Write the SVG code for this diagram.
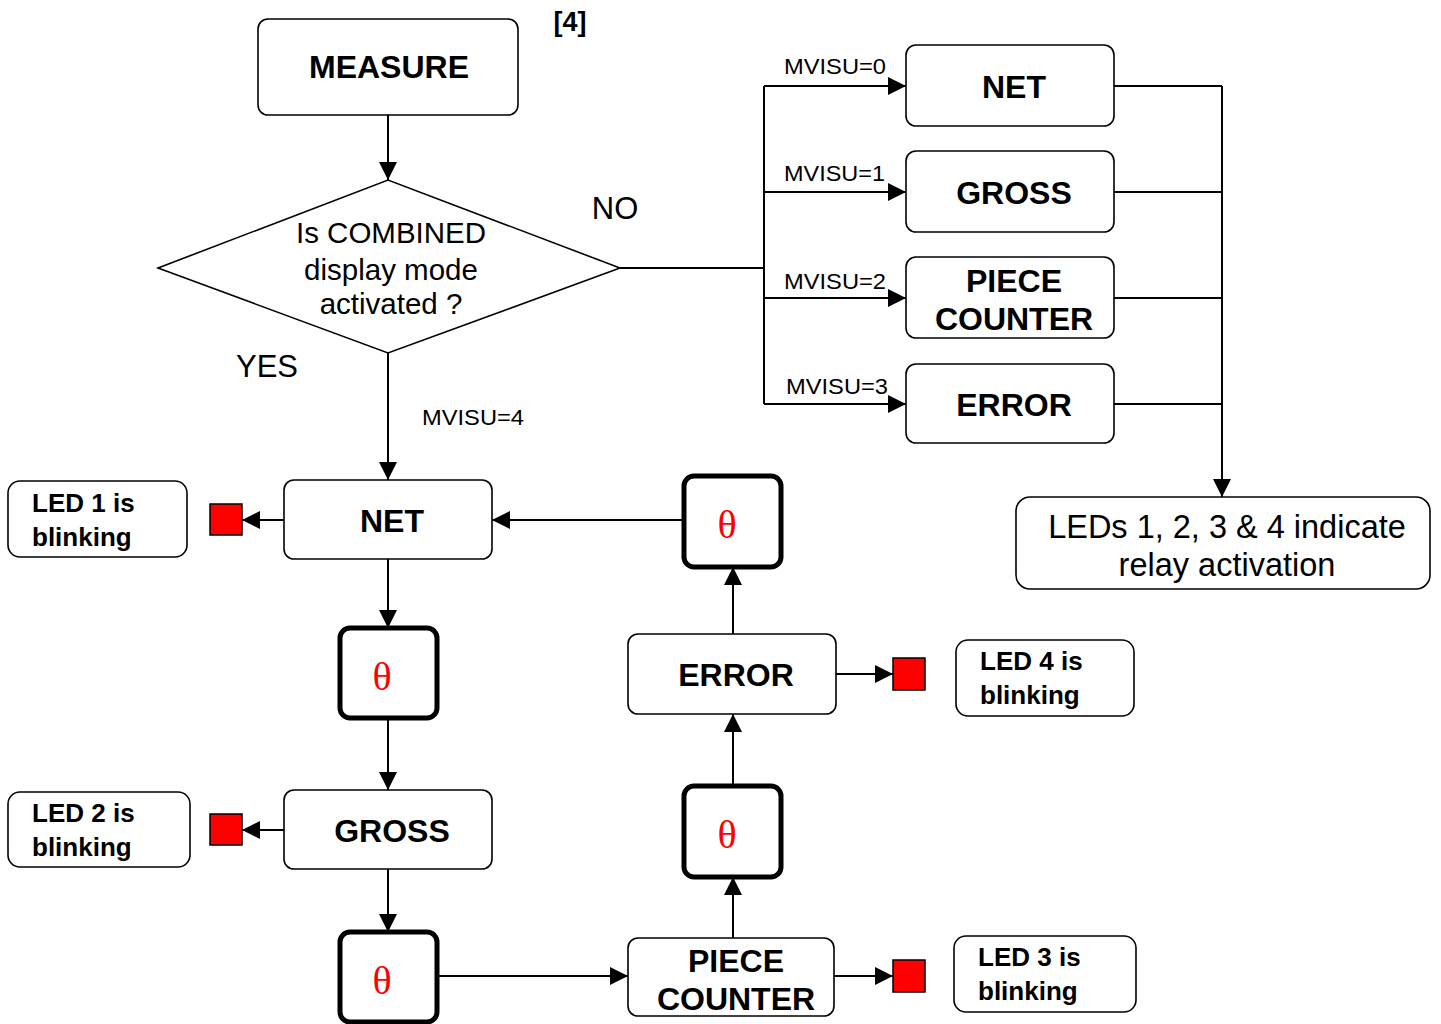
<svg xmlns="http://www.w3.org/2000/svg" width="1441" height="1024" viewBox="0 0 1441 1024">
<style>
.box{fill:#fff;stroke:#000;stroke-width:1.6}
.tbox{fill:#fff;stroke:#000;stroke-width:5}
.b{font-family:"Liberation Sans",Arial,sans-serif;font-weight:bold;font-size:32px;text-anchor:middle;fill:#000}
.led{font-family:"Liberation Sans",Arial,sans-serif;font-weight:bold;font-size:26px;fill:#000}
.n{font-family:"Liberation Sans",Arial,sans-serif;font-size:29.5px;text-anchor:middle;fill:#000}
.s{font-family:"Liberation Sans",Arial,sans-serif;font-size:22px;fill:#000}
.th{font-family:"Liberation Serif","Times New Roman",serif;font-size:40px;text-anchor:middle;fill:#f00}
.c{fill:none;stroke:#000;stroke-width:2}
.red{fill:#f00;stroke:#000;stroke-width:1.5}
</style>
<defs>
<marker id="a" markerUnits="userSpaceOnUse" markerWidth="20" markerHeight="18" refX="18" refY="9" orient="auto">
<path d="M0,0 L18,9 L0,18 z" fill="#000"/>
</marker>
</defs>
<text x="570" y="31" class="b" style="font-size:27px">[4]</text>

<g id="connectors">
<path class="c" d="M388,115 V180" marker-end="url(#a)"/>
<path class="c" d="M620,268 H764"/>
<path class="c" d="M764,86 V404"/>
<path class="c" d="M764,86 H906" marker-end="url(#a)"/>
<path class="c" d="M764,192 H906" marker-end="url(#a)"/>
<path class="c" d="M764,298 H906" marker-end="url(#a)"/>
<path class="c" d="M764,404 H906" marker-end="url(#a)"/>
<path class="c" d="M1114,86 H1222 M1114,192 H1222 M1114,298 H1222 M1114,404 H1222"/>
<path class="c" d="M1222,86 V497" marker-end="url(#a)"/>
<path class="c" d="M388,353 V480" marker-end="url(#a)"/>
<path class="c" d="M284,520 H242" marker-end="url(#a)"/>
<path class="c" d="M388,559 V628" marker-end="url(#a)"/>
<path class="c" d="M388,718 V790" marker-end="url(#a)"/>
<path class="c" d="M284,830 H242" marker-end="url(#a)"/>
<path class="c" d="M388,869 V932" marker-end="url(#a)"/>
<path class="c" d="M437,976 H628" marker-end="url(#a)"/>
<path class="c" d="M834,976 H893" marker-end="url(#a)"/>
<path class="c" d="M733,938 V877" marker-end="url(#a)"/>
<path class="c" d="M733,786 V714" marker-end="url(#a)"/>
<path class="c" d="M836,674 H893" marker-end="url(#a)"/>
<path class="c" d="M733,634 V567" marker-end="url(#a)"/>
<path class="c" d="M684,520 H492" marker-end="url(#a)"/>
<text x="784" y="74" class="s" textLength="102" lengthAdjust="spacingAndGlyphs">MVISU=0</text>
<text x="784" y="181" class="s" textLength="101" lengthAdjust="spacingAndGlyphs">MVISU=1</text>
<text x="784" y="289" class="s" textLength="102" lengthAdjust="spacingAndGlyphs">MVISU=2</text>
<text x="786" y="394" class="s" textLength="102" lengthAdjust="spacingAndGlyphs">MVISU=3</text>
<text x="422" y="425" class="s" textLength="102" lengthAdjust="spacingAndGlyphs">MVISU=4</text>
<text x="615" y="219" class="n" style="font-size:31px">NO</text>
<text x="267" y="377" class="n" style="font-size:31px">YES</text>
</g>

<g id="measure">
<rect class="box" x="258" y="19" width="260" height="96" rx="10"/>
<text x="389" y="78" class="b">MEASURE</text>
</g>

<g id="decision">
<polygon class="box" points="158,268 388,180 620,268 388,353"/>
<text x="391" y="243" class="n">Is COMBINED</text>
<text x="391" y="280" class="n">display mode</text>
<text x="391" y="314" class="n">activated ?</text>
</g>

<g id="net-r">
<rect class="box" x="906" y="45" width="208" height="81" rx="10"/>
<text x="1014" y="98" class="b">NET</text>
</g>
<g id="gross-r">
<rect class="box" x="906" y="151" width="208" height="81" rx="10"/>
<text x="1014" y="204" class="b">GROSS</text>
</g>
<g id="piece-r">
<rect class="box" x="906" y="257" width="208" height="81" rx="10"/>
<text x="1014" y="292" class="b">PIECE</text>
<text x="1014" y="330" class="b">COUNTER</text>
</g>
<g id="error-r">
<rect class="box" x="906" y="364" width="208" height="79" rx="10"/>
<text x="1014" y="416" class="b">ERROR</text>
</g>
<g id="leds">
<rect class="box" x="1016" y="497" width="414" height="92" rx="14"/>
<text x="1227" y="538" class="n" style="font-size:32.5px">LEDs 1, 2, 3 &amp; 4 indicate</text>
<text x="1227" y="576" class="n" style="font-size:32.5px">relay activation</text>
</g>

<g id="net">
<rect class="box" x="284" y="480" width="208" height="79" rx="10"/>
<text x="392" y="532" class="b">NET</text>
</g>
<g id="led1">
<rect class="box" x="8" y="481" width="179" height="76" rx="12"/>
<text x="32" y="512" class="led">LED 1 is</text>
<text x="32" y="546" class="led">blinking</text>
</g>
<rect id="sq1" class="red" x="210" y="504" width="32" height="31"/>

<g id="theta1">
<rect class="tbox" x="340" y="628" width="97" height="90" rx="10"/>
<text x="382" y="690" class="th">θ</text>
</g>

<g id="gross">
<rect class="box" x="284" y="790" width="208" height="79" rx="10"/>
<text x="392" y="842" class="b">GROSS</text>
</g>
<g id="led2">
<rect class="box" x="8" y="792" width="182" height="75" rx="12"/>
<text x="32" y="822" class="led">LED 2 is</text>
<text x="32" y="856" class="led">blinking</text>
</g>
<rect id="sq2" class="red" x="210" y="814" width="32" height="31"/>

<g id="theta3">
<rect class="tbox" x="340" y="932" width="97" height="90" rx="10"/>
<text x="382" y="994" class="th">θ</text>
</g>

<g id="piece">
<rect class="box" x="628" y="938" width="206" height="78" rx="10"/>
<text x="736" y="972" class="b">PIECE</text>
<text x="736" y="1010" class="b">COUNTER</text>
</g>
<rect id="sq3" class="red" x="893" y="960" width="32" height="32"/>
<g id="led3">
<rect class="box" x="954" y="936" width="182" height="76" rx="12"/>
<text x="978" y="966" class="led">LED 3 is</text>
<text x="978" y="1000" class="led">blinking</text>
</g>

<g id="theta2">
<rect class="tbox" x="684" y="786" width="97" height="91" rx="10"/>
<text x="727" y="848" class="th">θ</text>
</g>

<g id="error">
<rect class="box" x="628" y="634" width="208" height="80" rx="10"/>
<text x="736" y="686" class="b">ERROR</text>
</g>
<rect id="sq4" class="red" x="893" y="658" width="32" height="32"/>
<g id="led4">
<rect class="box" x="956" y="640" width="178" height="76" rx="12"/>
<text x="980" y="670" class="led">LED 4 is</text>
<text x="980" y="704" class="led">blinking</text>
</g>

<g id="theta4">
<rect class="tbox" x="684" y="476" width="97" height="91" rx="10"/>
<text x="727" y="538" class="th">θ</text>
</g>
</svg>
